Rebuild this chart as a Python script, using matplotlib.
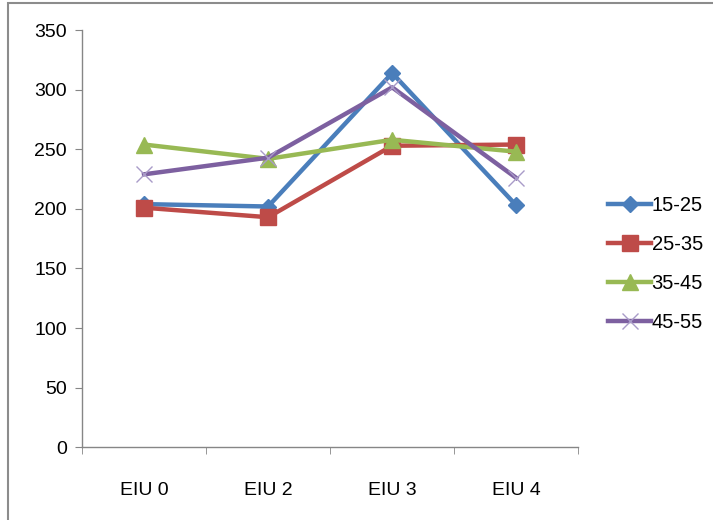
import matplotlib
matplotlib.use("Agg")
import matplotlib.pyplot as plt
from matplotlib.patches import Rectangle

plt.rcParams["font.family"] = ["Liberation Sans", "DejaVu Sans"]

categories = ["EIU 0", "EIU 2", "EIU 3", "EIU 4"]
age_groups = ["15-25", "25-35", "35-45", "45-55"]
vals_15_25 = [204, 202, 314, 203]
vals_25_35 = [201, 193, 253, 254]
vals_35_45 = [254, 242, 258, 248]
vals_45_55 = [229, 243, 302, 226]

series = [vals_15_25, vals_25_35, vals_35_45, vals_45_55]
colors = ["#4A7EBB", "#BE4B48", "#98B954", "#7D60A0"]
markers = ["D", "s", "^", "x"]
msizes = [8, 11, 11, 12]

fig = plt.figure(figsize=(7.13, 5.2), dpi=100)
ax = fig.add_axes([0.115, 0.140, 0.696, 0.802])

x = range(len(categories))
for vals, label, c, m, ms in zip(series, age_groups, colors, markers, msizes):
    kw = dict(markeredgecolor=c, markerfacecolor=c)
    if m == "x":
        kw = dict(markeredgecolor="#A99BC8", markeredgewidth=1.0)
    ax.plot(x, vals, color=c, lw=3.2, marker=m, ms=ms, label=label, **kw)

ax.set_ylim(0, 350)
ax.set_yticks(range(0, 351, 50))
ax.set_xlim(-0.5, 3.5)
ax.set_xticks(list(x))
ax.set_xticklabels(categories)
ax.set_xticks([-0.5, 0.5, 1.5, 2.5, 3.5], minor=True)

for side in ("top", "right"):
    ax.spines[side].set_visible(False)
for side in ("left", "bottom"):
    ax.spines[side].set_color("#868686")
    ax.spines[side].set_linewidth(1.0)

ax.tick_params(axis="y", length=5, color="#868686", labelsize=14, pad=6)
ax.tick_params(axis="x", which="major", length=0, labelsize=14, pad=25)
ax.tick_params(axis="x", which="minor", length=5, color="#868686")

leg = ax.legend(loc="center left", bbox_to_anchor=(0.842, 0.492),
                bbox_transform=fig.transFigure, frameon=False, fontsize=14.5,
                handlelength=2.1, handletextpad=0.05, labelspacing=1.0,
                borderaxespad=0)

# outer chart frame
fig.patches.append(Rectangle((8 / 713, -0.1), 1.2, 1 - 3 / 520 + 0.1,
                             transform=fig.transFigure, fill=False,
                             edgecolor="#8c8c8c", lw=1.5))

fig.savefig("out.png", dpi=100)
